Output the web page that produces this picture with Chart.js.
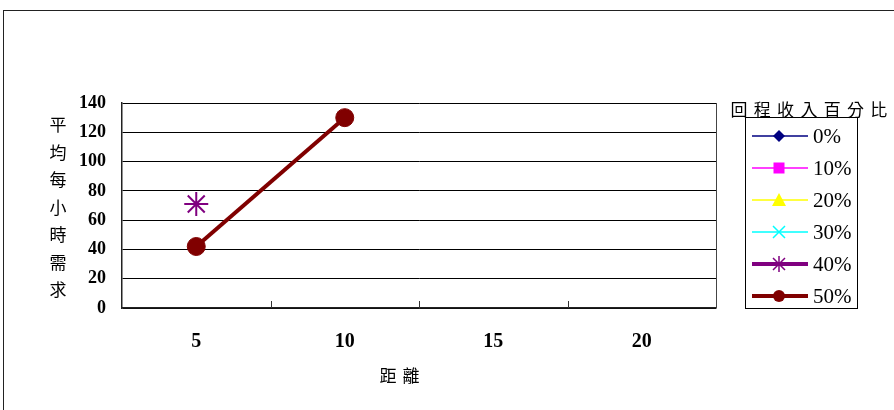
<!DOCTYPE html>
<html>
<head>
<meta charset="utf-8">
<script src="https://cdn.jsdelivr.net/npm/chart.js@4/dist/chart.umd.min.js"></script>
<style>
  html, body { margin: 0; padding: 0; background: #fff; }
  #wrap { position: relative; width: 894px; height: 410px; overflow: hidden; }
  #frame { position: absolute; left: 3px; top: 10px; width: 900px; height: 420px; border: 1.5px solid #222; box-sizing: border-box; }
  canvas { position: absolute; left: 0; top: 0; }
</style>
</head>
<body>
<div id="wrap">
  <div id="frame"></div>
  <canvas id="chart" width="894" height="410"></canvas>
</div>
<script>
// 距離 (x 軸分類)
const categories = ['5', '10', '15', '20'];
// 各回程收入百分比的平均每小時需求
const pct0 = [null, null, null, null];
const pct10 = [null, null, null, null];
const pct20 = [null, null, null, null];
const pct30 = [null, null, null, null];
const pct40 = [71, null, null, null];
const pct50 = [42, 130, null, null];
const seriesNames = ['0%', '10%', '20%', '30%', '40%', '50%'];
const yTicks = [0, 20, 40, 60, 80, 100, 120, 140];

const numFont = '"Liberation Serif", "Times New Roman", serif';
const cjkFont = '"Noto Sans CJK TC", "Noto Sans CJK SC", sans-serif';

const styles = [
  { color: '#000080', width: 1.5, point: 'rectRot', r: 6 },
  { color: '#FF00FF', width: 1.5, point: 'rect', r: 6 },
  { color: '#FFFF00', width: 1.5, point: 'triangle', r: 7 },
  { color: '#00FFFF', width: 1.5, point: 'crossRot', r: 7 },
  { color: '#800080', width: 4, point: 'star', r: 12 },
  { color: '#800000', width: 4, point: 'circle', r: 9 }
];
const allData = [pct0, pct10, pct20, pct30, pct40, pct50];

const datasets = allData.map((d, i) => ({
  label: seriesNames[i],
  data: d,
  borderColor: styles[i].color,
  backgroundColor: styles[i].color,
  borderWidth: styles[i].width,
  pointStyle: styles[i].point,
  pointRadius: styles[i].r,
  pointBorderWidth: i === 4 ? 2 : 1,
  pointBorderColor: styles[i].color,
  pointBackgroundColor: styles[i].color,
  spanGaps: false
}));

// 額外文字、刻度與自訂圖例
const decorPlugin = {
  id: 'decor',
  afterDraw(chart) {
    const ctx = chart.ctx;
    const area = chart.chartArea;
    const xs = chart.scales.x;
    ctx.save();

    // x 軸分類間的刻度線 (向內)
    ctx.strokeStyle = '#333';
    ctx.lineWidth = 1;
    for (let i = 1; i < categories.length; i++) {
      const px = Math.round((xs.getPixelForTick(i - 1) + xs.getPixelForTick(i)) / 2) + 0.5;
      ctx.beginPath();
      ctx.moveTo(px, area.bottom);
      ctx.lineTo(px, area.bottom - 7);
      ctx.stroke();
    }

    // 繪圖區右框線
    ctx.strokeStyle = '#444';
    ctx.beginPath();
    ctx.moveTo(area.right + 0.5, area.top);
    ctx.lineTo(area.right + 0.5, area.bottom);
    ctx.stroke();

    // y 軸標題 (直排)
    ctx.fillStyle = '#000';
    ctx.font = '17px ' + cjkFont;
    ctx.textAlign = 'center';
    ctx.textBaseline = 'middle';
    const yTitle = '平均每小時需求';
    for (let i = 0; i < yTitle.length; i++) {
      ctx.fillText(yTitle[i], 58, 125 + i * 27.5);
    }

    // x 軸標題
    ctx.fillText('距', 388, 376);
    ctx.fillText('離', 411, 376);

    // 圖例標題
    const lt = '回程收入百分比';
    for (let i = 0; i < lt.length; i++) {
      ctx.fillText(lt[i], 739 + i * 23.3, 110);
    }

    // 圖例框
    ctx.strokeStyle = '#000';
    ctx.lineWidth = 1;
    ctx.strokeRect(745.5, 117.5, 112, 191);

    for (let i = 0; i < seriesNames.length; i++) {
      const s = styles[i];
      const y = 136 + i * 32;
      ctx.strokeStyle = s.color;
      ctx.fillStyle = s.color;
      ctx.lineWidth = s.width;
      ctx.beginPath();
      ctx.moveTo(752, y);
      ctx.lineTo(808, y);
      ctx.stroke();
      const cx = 779, r = 6;
      ctx.lineWidth = 1.5;
      ctx.beginPath();
      if (s.point === 'rectRot') {
        ctx.moveTo(cx, y - r); ctx.lineTo(cx + r, y); ctx.lineTo(cx, y + r); ctx.lineTo(cx - r, y); ctx.closePath(); ctx.fill();
      } else if (s.point === 'rect') {
        ctx.fillRect(cx - 5.5, y - 5.5, 11, 11);
      } else if (s.point === 'triangle') {
        ctx.moveTo(cx, y - 7); ctx.lineTo(cx + 7, y + 6); ctx.lineTo(cx - 7, y + 6); ctx.closePath(); ctx.fill();
      } else if (s.point === 'crossRot') {
        ctx.moveTo(cx - 6, y - 6); ctx.lineTo(cx + 6, y + 6);
        ctx.moveTo(cx + 6, y - 6); ctx.lineTo(cx - 6, y + 6); ctx.stroke();
      } else if (s.point === 'star') {
        ctx.moveTo(cx - 6, y - 6); ctx.lineTo(cx + 6, y + 6);
        ctx.moveTo(cx + 6, y - 6); ctx.lineTo(cx - 6, y + 6);
        ctx.moveTo(cx, y - 8); ctx.lineTo(cx, y + 8); ctx.stroke();
      } else {
        ctx.arc(cx, y, 6, 0, Math.PI * 2); ctx.fill();
      }
      ctx.fillStyle = '#000';
      ctx.font = '21px ' + numFont;
      ctx.textAlign = 'left';
      ctx.fillText(seriesNames[i], 813, y + 1);
      ctx.textAlign = 'center';
    }
    ctx.restore();
  }
};

new Chart(document.getElementById('chart'), {
  type: 'line',
  data: { labels: categories, datasets },
  options: {
    responsive: false,
    animation: false,
    layout: { padding: { left: 0, top: 103, right: 178, bottom: 0 } },
    plugins: { legend: { display: false }, tooltip: { enabled: false }, title: { display: false } },
    scales: {
      x: {
        type: 'category',
        offset: true,
        grid: { display: false, offset: true },
        border: { display: true, color: '#222', width: 1.5 },
        ticks: { color: '#000', font: { family: numFont, size: 20, weight: 'bold' }, padding: 14, maxRotation: 0 },
        afterFit(scale) { scale.height = 102; }
      },
      y: {
        min: 0,
        max: 140,
        afterBuildTicks(scale) { scale.ticks = yTicks.map(v => ({ value: v })); },
        grid: { color: '#000', lineWidth: 1, drawTicks: false },
        border: { display: true, color: '#222', width: 1.5 },
        ticks: { color: '#000', font: { family: numFont, size: 18, weight: 'bold' }, padding: 16 },
        afterFit(scale) { scale.width = 122; }
      }
    }
  },
  plugins: [decorPlugin]
});
</script>
</body>
</html>
